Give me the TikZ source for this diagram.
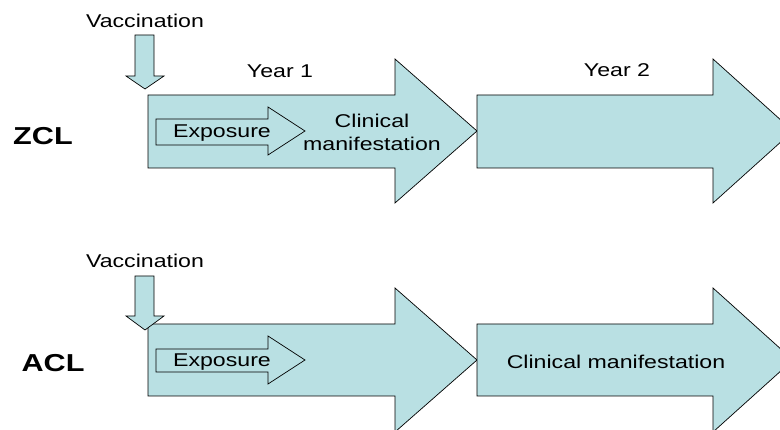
\documentclass[tikz,border=0pt]{standalone}
\usepackage{fontspec}
\setmainfont{Liberation Sans}
\newfontfamily\labelfont[FakeStretch=1.25]{Liberation Sans}
\definecolor{phase}{RGB}{185,224,227}
\begin{document}
\begin{tikzpicture}[x=1pt,y=-1pt,
  blockarrow/.style={draw=black,line width=0.7pt,fill=phase,line join=miter},
  txt/.style={font=\labelfont\fontsize{18.5}{23}\selectfont,inner sep=0pt,align=center},
  rowlabel/.style={font=\labelfont\fontsize{24.5}{28}\selectfont\bfseries,inner sep=0pt}]
\useasboundingbox (0,0) rectangle (780,430);
\clip (0,0) rectangle (780,430);

% ---------- ZCL row ----------
\draw[blockarrow] (148,95) -- (395,95) -- (395,59) -- (477,131) -- (395,203)
  -- (395,168) -- (148,168) -- cycle;
\draw[blockarrow] (477,95) -- (713,95) -- (713,59) -- (793,131) -- (713,203)
  -- (713,168) -- (477,168) -- cycle;
\draw[blockarrow] (156,119) -- (268,119) -- (268,107) -- (305,131) -- (268,155)
  -- (268,145) -- (156,145) -- cycle;
\draw[blockarrow] (135,35) -- (154,35) -- (154,76) -- (164,76) -- (145,89)
  -- (126,76) -- (135,76) -- cycle;

\node[txt] (vacc1) at (145,21) {Vaccination};
\node[txt] (year1) at (280,71) {Year 1};
\node[txt] (year2) at (617,70) {Year 2};
\node[rowlabel] (zcl) at (43,136) {ZCL};
\node[txt] (expo1) at (222,133) {Exposure};
\node[txt] (clin1) at (372,132) {Clinical\\manifestation};

% ---------- ACL row ----------
\draw[blockarrow] (148,324) -- (395,324) -- (395,288) -- (477,360) -- (395,432)
  -- (395,396) -- (148,396) -- cycle;
\draw[blockarrow] (477,324) -- (713,324) -- (713,288) -- (793,360) -- (713,432)
  -- (713,396) -- (477,396) -- cycle;
\draw[blockarrow] (156,349) -- (268,349) -- (268,336) -- (305,360) -- (268,384)
  -- (268,372) -- (156,372) -- cycle;
\draw[blockarrow] (135,276) -- (154,276) -- (154,316) -- (164,316) -- (145,330)
  -- (126,316) -- (135,316) -- cycle;

\node[txt] (vacc2) at (145,261) {Vaccination};
\node[rowlabel] (acl) at (53,363) {ACL};
\node[txt] (expo2) at (222,362) {Exposure};
\node[txt] (clin2) at (616,362) {Clinical manifestation};
\end{tikzpicture}
\end{document}
